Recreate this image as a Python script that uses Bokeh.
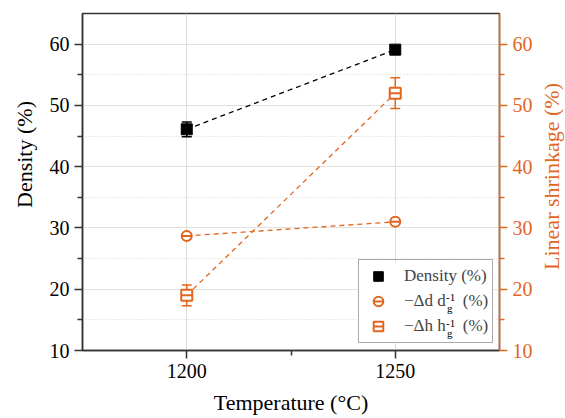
from bokeh.plotting import figure
from bokeh.layouts import row
from bokeh.models import (Range1d, LinearAxis, FixedTicker, ColumnDataSource,
                          Whisker, TeeHead, Legend, LegendItem, BoxAnnotation)
from bokeh.core.properties import value
from bokeh.embed import file_html
from bokeh.resources import INLINE

# ---- data ----
temps = [1200, 1250]
density = [46.1, 59.1]
density_err = [1.2, 0.4]
dd_shrink = [28.7, 31.0]
dd_err = [0.3, 0.3]
dh_shrink = [19.0, 52.0]
dh_err = [1.7, 2.5]

x_ticks = [1200, 1250]
x_minor = [1225]
y_ticks = [10, 20, 30, 40, 50, 60]
y_minor = [15, 25, 35, 45, 55]

ORANGE = "#E2661F"
DARK = "#333333"
FONT = "Liberation Serif"
NB = "\u00a0"

p = figure(width=535, height=418, x_range=Range1d(1175, 1275), y_range=Range1d(10, 65),
           output_backend="svg", toolbar_location=None,
           min_border_left=82, min_border_right=35, min_border_top=13, min_border_bottom=68)
p.extra_y_ranges = {"shr": Range1d(10, 65)}

p.outline_line_color = DARK
p.outline_line_width = 1.5

# grids
p.xgrid.ticker = FixedTicker(ticks=x_ticks)
p.xgrid.grid_line_color = "#dcdcdc"
p.ygrid.ticker = FixedTicker(ticks=y_ticks, minor_ticks=y_minor)
p.ygrid.grid_line_color = "#e0e0e0"
p.ygrid.grid_line_width = 1
p.ygrid.minor_grid_line_color = "#d8d8d8"
p.ygrid.minor_grid_line_dash = "1 2"

def style_axis(ax, color, ticks, minor):
    ax.ticker = FixedTicker(ticks=ticks, minor_ticks=minor)
    ax.axis_line_color = color
    ax.axis_line_width = 1.5
    ax.major_tick_line_color = color
    ax.major_tick_line_width = 1.5
    ax.minor_tick_line_color = color
    ax.minor_tick_line_width = 1.5
    ax.major_tick_in = 0
    ax.major_tick_out = 8
    ax.minor_tick_in = 0
    ax.minor_tick_out = 5
    ax.major_label_text_font = FONT
    ax.major_label_text_font_size = "20px"
    ax.major_label_text_color = color
    ax.axis_label_text_font = FONT
    ax.axis_label_text_font_size = "22px"
    ax.axis_label_text_font_style = "normal"
    ax.axis_label_text_color = color

xa = p.xaxis[0]
style_axis(xa, DARK, x_ticks, x_minor)
xa.axis_label = "Temperature (°C)"
xa.axis_label_standoff = 9
xa.major_label_text_color = "black"
xa.axis_label_text_color = "black"

ya = p.yaxis[0]
style_axis(ya, DARK, y_ticks, y_minor)
ya.axis_label = NB * 10 + "Density (%)"
ya.axis_label_standoff = 10
ya.major_label_text_color = "black"
ya.axis_label_text_color = "black"

ra = LinearAxis(y_range_name="shr")
style_axis(ra, ORANGE, y_ticks, y_minor)
p.add_layout(ra, "right")

# white backing of the legend box (legend itself is transparent so sub/superscripts show)
p.add_layout(BoxAnnotation(left=1241.0, right=1273.6, bottom=11.2, top=24.5,
                           fill_color="white", fill_alpha=1, line_color=None, level="underlay"))

# ---- series ----
src_d = ColumnDataSource(dict(x=temps, y=density,
                              lo=[v - e for v, e in zip(density, density_err)],
                              hi=[v + e for v, e in zip(density, density_err)]))
src_dd = ColumnDataSource(dict(x=temps, y=dd_shrink,
                               lo=[v - e for v, e in zip(dd_shrink, dd_err)],
                               hi=[v + e for v, e in zip(dd_shrink, dd_err)]))
src_dh = ColumnDataSource(dict(x=temps, y=dh_shrink,
                               lo=[v - e for v, e in zip(dh_shrink, dh_err)],
                               hi=[v + e for v, e in zip(dh_shrink, dh_err)]))

p.line("x", "y", source=src_d, line_color="black", line_width=1.3, line_dash="5 4")
p.line("x", "y", source=src_dd, line_color=ORANGE, line_width=1.3, line_dash="5 4", y_range_name="shr")
p.line("x", "y", source=src_dh, line_color=ORANGE, line_width=1.3, line_dash="5 4", y_range_name="shr")

for src, col, yr in [(src_d, "black", "default"), (src_dd, ORANGE, "shr"), (src_dh, ORANGE, "shr")]:
    w = Whisker(base="x", lower="lo", upper="hi", source=src, y_range_name=yr,
                line_color=col, line_width=1.5,
                upper_head=TeeHead(size=10, line_color=col, line_width=1.5),
                lower_head=TeeHead(size=10, line_color=col, line_width=1.5))
    p.add_layout(w)

r_d = p.scatter("x", "y", source=src_d, marker="square", size=11, fill_color="black", line_color="black")
r_dd1 = p.scatter("x", "y", source=src_dd, marker="circle", size=10, fill_color="white",
                  line_color=ORANGE, line_width=2, y_range_name="shr")
r_dd2 = p.scatter("x", "y", source=src_dd, marker="dash", size=10, line_color=ORANGE,
                  line_width=2, y_range_name="shr")
r_dh1 = p.scatter("x", "y", source=src_dh, marker="square", size=11, fill_color="white",
                  line_color=ORANGE, line_width=2, y_range_name="shr")
r_dh2 = p.scatter("x", "y", source=src_dh, marker="dash", size=11, line_color=ORANGE,
                  line_width=2, y_range_name="shr")

legend = Legend(items=[
    LegendItem(label="Density (%)", renderers=[r_d]),
    LegendItem(label="\u2212\u0394d d" + NB * 4 + "(%)", renderers=[r_dd1, r_dd2]),
    LegendItem(label="\u2212\u0394h h" + NB * 4 + "(%)", renderers=[r_dh1, r_dh2]),
], location=(276, 7))
legend.label_text_font = FONT
legend.label_text_font_size = "17px"
legend.glyph_width = 30
legend.glyph_height = 24
legend.label_height = 24
legend.label_standoff = 11
legend.spacing = 1
legend.padding = 4
legend.margin = 0
legend.border_line_color = "#555555"
legend.border_line_width = 1
legend.background_fill_alpha = 0
p.add_layout(legend)

# sub/superscripts of the two legend labels
sub_sup = ColumnDataSource(dict(
    x=[1262.2, 1262.4, 1262.2, 1262.4],
    y=[18.65, 17.0, 14.4, 12.8],
    t=["-1", "g", "-1", "g"],
))
p.text("x", "y", text="t", source=sub_sup, text_font=value(FONT), text_font_size=value("11px"),
       text_baseline="alphabetic", text_color="black")

# ---- right-hand title (reads bottom-to-top like the left one) ----
p2 = figure(width=30, height=418, x_range=Range1d(0, 1), y_range=Range1d(10, 65),
            output_backend="svg", toolbar_location=None, x_axis_location=None,
            min_border_left=28, min_border_right=0, min_border_top=13, min_border_bottom=68)
p2.outline_line_color = None
p2.grid.visible = False
ta = p2.yaxis[0]
ta.ticker = FixedTicker(ticks=[])
ta.axis_line_color = None
ta.major_tick_line_color = None
ta.minor_tick_line_color = None
ta.major_tick_out = 0
ta.minor_tick_out = 0
ta.major_label_standoff = 0
ta.axis_label = NB * 2 + "Linear shrinkage (%)"
ta.axis_label_standoff = 0
ta.axis_label_text_font = FONT
ta.axis_label_text_font_size = "22px"
ta.axis_label_text_font_style = "normal"
ta.axis_label_text_color = ORANGE

layout = row(p, p2, spacing=0)
open("out.html", "w").write(file_html(layout, INLINE))
